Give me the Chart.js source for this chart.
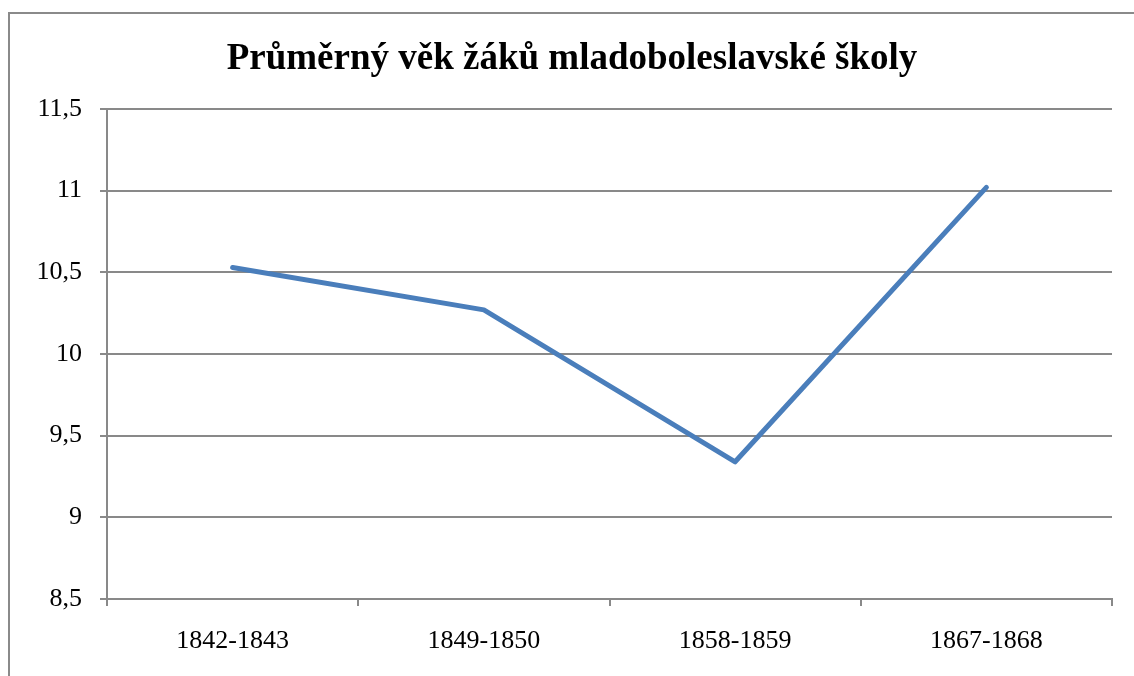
<!DOCTYPE html>
<html>
<head>
<meta charset="utf-8">
<script src="https://cdn.jsdelivr.net/npm/chart.js@4/dist/chart.umd.min.js"></script>
<style>
  html, body { margin: 0; padding: 0; background: #fff; overflow: hidden; }
  #wrap { position: absolute; left: 0; top: 0; width: 1134px; height: 676px; }
</style>
</head>
<body>
<div id="wrap"><canvas id="chart" width="1134" height="676"></canvas></div>
<script>
// data
var categories = ['1842-1843', '1849-1850', '1858-1859', '1867-1868'];
var avgAge = [10.53, 10.27, 9.34, 11.02];
var yMin = 8.5, yMax = 11.5, yStep = 0.5;
var titleText = 'Průměrný věk žáků mladoboleslavské školy';

var gridColor = '#898989';

// outer frame of the chart object + title (centred on the frame, not the canvas)
var framePlugin = {
    id: 'frame',
    beforeDraw: function(chart) {
        var ctx = chart.ctx;
        ctx.save();
        ctx.fillStyle = '#fff';
        ctx.fillRect(0, 0, chart.width, chart.height);
        ctx.strokeStyle = '#8a8a8a';
        ctx.lineWidth = 2;
        ctx.strokeRect(9, 13, 1300, 800);
        ctx.fillStyle = '#000';
        ctx.font = 'bold 37px "Liberation Serif"';
        ctx.textAlign = 'center';
        ctx.textBaseline = 'alphabetic';
        ctx.fillText(titleText, 572, 69);
        ctx.restore();
    }
};

var ctx = document.getElementById('chart').getContext('2d');
new Chart(ctx, {
    type: 'line',
    data: {
        labels: categories,
        datasets: [{
            data: avgAge,
            borderColor: '#4A7EBB',
            borderWidth: 5,
            borderCapStyle: 'round',
            borderJoinStyle: 'round',
            pointRadius: 0,
            tension: 0,
            fill: false
        }]
    },
    options: {
        responsive: false,
        animation: false,
        layout: { padding: { left: 0, right: 22, top: 109, bottom: 0 } },
        plugins: {
            legend: { display: false },
            tooltip: { enabled: false },
            title: { display: false }
        },
        scales: {
            x: {
                offset: true,
                grid: {
                    offset: true,
                    drawOnChartArea: false,
                    drawTicks: true,
                    tickLength: 7,
                    color: gridColor,
                    lineWidth: 2
                },
                border: { display: true, color: gridColor, width: 2 },
                ticks: {
                    color: '#000',
                    font: { family: 'Liberation Serif', size: 26 },
                    padding: 20,
                    maxRotation: 0
                },
                afterFit: function(scale) { scale.height = 77; }
            },
            y: {
                min: yMin,
                max: yMax,
                grid: {
                    color: gridColor,
                    lineWidth: 2,
                    tickLength: 7
                },
                border: { display: true, color: gridColor, width: 2 },
                ticks: {
                    stepSize: yStep,
                    color: '#000',
                    font: { family: 'Liberation Serif', size: 26 },
                    padding: 18,
                    callback: function(v) { return String(v).replace('.', ','); }
                },
                afterFit: function(scale) { scale.width = 107; }
            }
        }
    },
    plugins: [framePlugin]
});
</script>
</body>
</html>
